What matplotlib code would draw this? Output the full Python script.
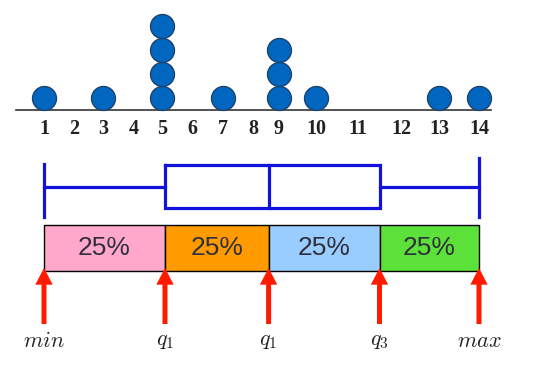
import numpy as np
import matplotlib
matplotlib.use("Agg")
import matplotlib.pyplot as plt

# data
values = [1, 3, 5, 7, 9, 10, 13, 14]
counts = [1, 1, 4, 1, 3, 1, 1, 1]
tick_values = list(range(1, 15))
box_stats = [1, 5.1, 8.6, 11.5, 14]  # min, q1, median, q3, max as drawn
quarter_labels = ["25%", "25%", "25%", "25%"]
quarter_colors = ["#ffa8cc", "#ff9a00", "#99ccff", "#5ce03a"]
marker_labels = ["$min$", "$q_1$", "$q_1$", "$q_3$", "$max$"]

# the hand-drawn number line is not evenly spaced: pixel position of each tick
tick_px = [44, 74, 103, 134, 162, 192, 223, 253, 279, 316, 358, 401, 439, 479]
scale_vals = np.array([-20] + tick_values + [40], dtype=float)
scale_px = np.array([44 - 21 * 30] + tick_px + [479 + 26 * 40], dtype=float)


def fwd(v):
    return np.interp(v, scale_vals, scale_px)


def inv(p):
    return np.interp(p, scale_px, scale_vals)


plt.rcParams["mathtext.fontset"] = "cm"
fig = plt.figure(figsize=(5.47, 3.70), dpi=100)
ax = fig.add_axes([0, 0, 1, 1])
ax.set_xscale("function", functions=(fwd, inv))
ax.set_xlim(inv(0), inv(547))
ax.set_ylim(370, 0)
ax.axis("off")

# dot plot
base_y = 110
dot_step = 24
ax.axhline(base_y, xmin=16 / 547, xmax=491 / 547, color="#333333", lw=1.2, zorder=1)
for v, c in zip(values, counts):
    ys = [base_y - 12 - k * dot_step for k in range(c)]
    ax.scatter([v] * c, ys, s=300, color="#0066c0", edgecolor="#1f3f66",
               linewidth=0.9, zorder=3)
for t in tick_values:
    ax.text(t, 129, str(t), ha="center", va="center", fontsize=14.5,
            fontweight="bold", family="Liberation Serif", color="#222222")

# box plot
lo, q1, med, q3, hi = box_stats
blue = "#1212dd"
lw = 2.3
ax.plot([lo, q1], [187, 187], color=blue, lw=lw)
ax.plot([q3, hi], [187, 187], color=blue, lw=lw)
ax.plot([lo, lo], [164, 217], color=blue, lw=lw)
ax.plot([hi, hi], [158, 217], color=blue, lw=lw)
ax.plot([q1, q3, q3, q1, q1], [165, 165, 208, 208, 165], color=blue, lw=lw,
        solid_joinstyle="miter")
ax.plot([med, med], [165, 208], color=blue, lw=lw)

# quarter bars
edges = box_stats
for i in range(4):
    ax.fill_between([edges[i], edges[i + 1]], 225, 271, facecolor=quarter_colors[i],
                    edgecolor="black", lw=1.0)
    mid = inv((fwd(edges[i]) + fwd(edges[i + 1])) / 2)
    ax.text(mid, 248, quarter_labels[i], ha="center", va="center",
            fontsize=19, family="Liberation Sans", color="#30303c")

# arrows and labels
for x, lab in zip(box_stats, marker_labels):
    ax.annotate("", xy=(x, 268), xytext=(x, 324),
                arrowprops=dict(arrowstyle="simple,head_length=12,head_width=12.5,tail_width=3.6",
                                mutation_scale=1, color="#ff1a00", lw=0,
                                shrinkA=0, shrinkB=0))
    ax.text(x, 341, lab, ha="center", va="center", fontsize=16, color="#222222")

fig.savefig("out.png", dpi=100)
